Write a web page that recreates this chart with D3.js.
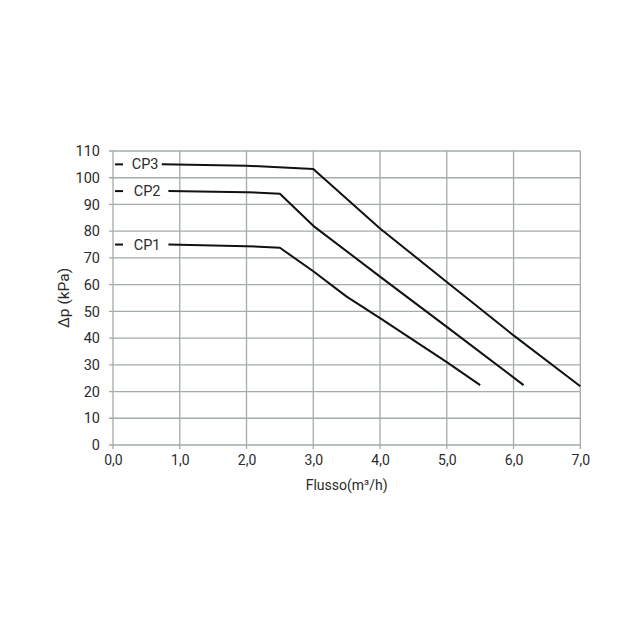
<!DOCTYPE html>
<html>
<head>
<meta charset="utf-8">
<script src="https://cdn.jsdelivr.net/npm/d3@7"></script>
<style>
    body { margin: 0; background: #fff; }
    text { font-family: Roboto, "Noto Sans", sans-serif; fill: #2b2b2b; }
</style>
</head>
<body>
<script>
// flow (m3/h) / pressure drop (kPa)
var cp1Flow = [0.83, 2.0, 2.5, 3.0, 3.5, 4.0, 5.0, 5.5];
var cp1Dp = [75, 74.4, 73.8, 65, 55.5, 47.5, 31, 22.4];
var cp2Flow = [0.83, 2.0, 2.5, 3.0, 4.0, 5.0, 6.15];
var cp2Dp = [95, 94.6, 94, 82, 63, 44.2, 22.4];
var cp3Flow = [0.73, 2.0, 3.0, 4.0, 5.0, 6.0, 7.0];
var cp3Dp = [105, 104.5, 103.3, 81, 61, 41, 22];
var seriesNames = ['CP1', 'CP2', 'CP3'];
var xTicks = [0, 1, 2, 3, 4, 5, 6, 7];
var yTicks = [0, 10, 20, 30, 40, 50, 60, 70, 80, 90, 100, 110];

var series = [
    { name: seriesNames[0], flow: cp1Flow, dp: cp1Dp },
    { name: seriesNames[1], flow: cp2Flow, dp: cp2Dp },
    { name: seriesNames[2], flow: cp3Flow, dp: cp3Dp }
];

var width = 640;
var height = 640;
var margin = { top: 151, right: 60, bottom: 195, left: 113 };

var x = d3.scaleLinear().domain([0, 7]).range([margin.left, width - margin.right + 0.3]);
var y = d3.scaleLinear().domain([0, 110]).range([height - margin.bottom, margin.top]);

var svg = d3.select('body').append('svg')
    .attr('width', width)
    .attr('height', height);

// grid
var grid = svg.append('g').attr('class', 'grid')
    .attr('stroke', '#a3abab')
    .attr('stroke-width', 1.3);

grid.selectAll('.h').data(yTicks).enter().append('line')
    .attr('class', 'h')
    .attr('x1', x(0) - 4).attr('x2', x(7))
    .attr('y1', function(d) { return y(d); })
    .attr('y2', function(d) { return y(d); });

grid.selectAll('.v').data(xTicks).enter().append('line')
    .attr('class', 'v')
    .attr('y1', y(0) + 4).attr('y2', y(110))
    .attr('x1', function(d) { return x(d); })
    .attr('x2', function(d) { return x(d); });

// axes labels through d3 axes, domain/ticks hidden (grid drawn above)
var xAxis = d3.axisBottom(x).tickValues(xTicks).tickSize(0).tickPadding(10)
    .tickFormat(function(d) { return d3.format('.1f')(d).replace('.', ','); });
var yAxis = d3.axisLeft(y).tickValues(yTicks).tickSize(0).tickPadding(13);

var gx = svg.append('g')
    .attr('transform', 'translate(0,' + y(0) + ')')
    .call(xAxis);
gx.select('.domain').remove();
gx.selectAll('text').attr('font-size', 14).attr('font-family', null).attr('fill', null);

var gy = svg.append('g')
    .attr('transform', 'translate(' + x(0) + ',0)')
    .call(yAxis);
gy.select('.domain').remove();
gy.selectAll('text').attr('font-size', 14.5).attr('font-family', null).attr('fill', null);

svg.append('text')
    .attr('x', (x(0) + x(7)) / 2)
    .attr('y', 490)
    .attr('text-anchor', 'middle')
    .attr('font-size', 14)
    .text('Flusso(m³/h)');

svg.append('text')
    .attr('transform', 'translate(69,' + y(55) + ') rotate(-90)')
    .attr('text-anchor', 'middle')
    .attr('font-size', 15.5)
    .text('Δp (kPa)');

// curves
var line = d3.line()
    .x(function(d) { return x(d[0]); })
    .y(function(d) { return y(d[1]); });

svg.selectAll('.curve').data(series).enter().append('path')
    .attr('class', 'curve')
    .attr('fill', 'none')
    .attr('stroke', '#111')
    .attr('stroke-width', 2)
    .attr('stroke-linejoin', 'round')
    .attr('d', function(s) {
        return line(s.flow.map(function(f, i) { return [f, s.dp[i]]; }));
    });

// labels with leading dash
var labels = svg.selectAll('.label').data(series).enter().append('g')
    .attr('class', 'label');

labels.append('line')
    .attr('x1', x(0.03)).attr('x2', x(0.15))
    .attr('y1', function(s) { return y(s.dp[0]); })
    .attr('y2', function(s) { return y(s.dp[0]); })
    .attr('stroke', '#111')
    .attr('stroke-width', 2);

labels.append('text')
    .attr('x', function(s) { return s.name === 'CP3' ? x(0.28) : x(0.31); })
    .attr('y', function(s) { return y(s.dp[0]) + 5; })
    .attr('font-size', 14.5)
    .text(function(s) { return s.name; });
</script>
</body>
</html>
